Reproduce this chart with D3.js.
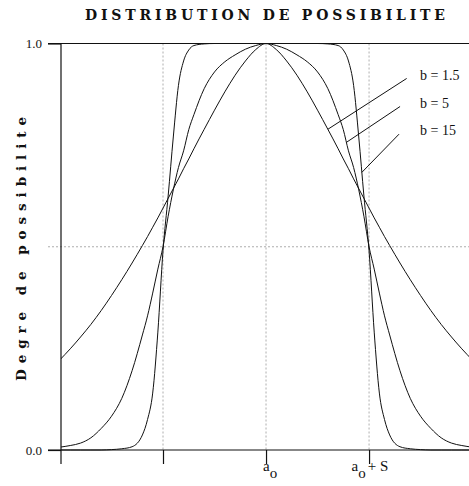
<!DOCTYPE html>
<html>
<head>
<meta charset="utf-8">
<script src="https://cdn.jsdelivr.net/npm/d3@7"></script>
<style>
  body { margin: 0; background: #fff; }
  svg { display: block; }
</style>
</head>
<body>
<div id="chart"></div>
<script>
// abscissa in units of S, centred on a0
var tVals = [-2.0, -1.9, -1.8, -1.7, -1.6, -1.5, -1.4, -1.3, -1.2, -1.15, -1.1, -1.05, -1.0, -0.95, -0.9, -0.85, -0.8, -0.75, -0.7, -0.6, -0.5, -0.4, -0.3, -0.2, -0.1,
  0,
  0.1, 0.2, 0.3, 0.4, 0.5, 0.6, 0.7, 0.75, 0.8, 0.85, 0.9, 0.95, 1.0, 1.05, 1.1, 1.15, 1.2, 1.3, 1.4, 1.5, 1.6, 1.7, 1.8, 1.9, 2.0];

// degree of possibility
var b1_5 = [0.222, 0.249, 0.278, 0.309, 0.343, 0.380, 0.419, 0.460, 0.503, 0.525, 0.548, 0.571, 0.595, 0.619, 0.643, 0.667, 0.692, 0.716, 0.741, 0.789, 0.836, 0.881, 0.922, 0.957, 0.985,
  1.0,
  0.985, 0.957, 0.922, 0.881, 0.836, 0.789, 0.741, 0.716, 0.692, 0.667, 0.643, 0.619, 0.595, 0.571, 0.548, 0.525, 0.503, 0.460, 0.419, 0.380, 0.343, 0.309, 0.278, 0.249, 0.222];

var b5 = [0.007, 0.011, 0.017, 0.030, 0.053, 0.083, 0.127, 0.195, 0.283, 0.330, 0.386, 0.445, 0.500, 0.575, 0.640, 0.695, 0.736, 0.788, 0.825, 0.889, 0.930, 0.955, 0.972, 0.986, 0.995,
  1.0,
  0.995, 0.986, 0.972, 0.955, 0.930, 0.889, 0.825, 0.788, 0.736, 0.695, 0.640, 0.575, 0.500, 0.445, 0.386, 0.330, 0.283, 0.195, 0.127, 0.083, 0.053, 0.030, 0.017, 0.011, 0.007];

var b15 = [0, 0, 0, 0, 0, 0.001, 0.003, 0.008, 0.037, 0.075, 0.140, 0.290, 0.490, 0.625, 0.770, 0.897, 0.957, 0.984, 0.995, 0.999, 1, 1, 1, 1, 1,
  1,
  1, 1, 1, 1, 1, 0.999, 0.995, 0.984, 0.957, 0.897, 0.770, 0.625, 0.490, 0.290, 0.140, 0.075, 0.037, 0.008, 0.003, 0.001, 0, 0, 0, 0, 0];

var seriesNames = ["b = 1.5", "b = 5", "b = 15"];
var seriesVals = [b1_5, b5, b15];

var xTicks = [-1, 0, 1];
var yTicks = [0, 0.5, 1];
var yTickLabels = ["0.0", "", "1.0"];

var width = 469, height = 486;

var svg = d3.select("#chart").append("svg")
  .attr("width", width)
  .attr("height", height);

var x = d3.scaleLinear().domain([-1.99, 1.97]).range([61, 469]);
var y = d3.scaleLinear().domain([0, 1]).range([450, 43.5]);

var left = x(-1.99);

// title
svg.append("text")
  .attr("x", 85).attr("y", 20)
  .attr("textLength", 360).attr("lengthAdjust", "spacing")
  .style("font-family", "'DejaVu Serif', serif")
  .style("font-weight", "bold")
  .style("font-size", "14px")
  .attr("fill", "#111")
  .text("DISTRIBUTION DE POSSIBILITE");

// y label
svg.append("text")
  .attr("transform", "translate(26,381)rotate(-90)")
  .attr("textLength", 264).attr("lengthAdjust", "spacing")
  .style("font-family", "'DejaVu Serif', serif")
  .style("font-weight", "bold")
  .style("font-size", "13.5px")
  .attr("fill", "#111")
  .text("Degre de possibilite");

// dotted grid
svg.selectAll(".vgrid").data(xTicks).enter().append("line")
  .attr("class", "vgrid")
  .attr("x1", function(d) { return x(d); }).attr("x2", function(d) { return x(d); })
  .attr("y1", y(1)).attr("y2", y(0))
  .attr("stroke", "#999").attr("stroke-width", 0.8)
  .attr("stroke-dasharray", "2,2");

svg.append("line")
  .attr("x1", 48).attr("x2", width)
  .attr("y1", y(0.5)).attr("y2", y(0.5))
  .attr("stroke", "#999").attr("stroke-width", 0.8)
  .attr("stroke-dasharray", "2,2");

// frame lines at 0 and 1
[0, 1].forEach(function(v) {
  svg.append("line")
    .attr("x1", 48).attr("x2", width)
    .attr("y1", y(v)).attr("y2", y(v))
    .attr("stroke", "#111").attr("stroke-width", 1.2);
});

// left axis line
svg.append("line")
  .attr("x1", left).attr("x2", left)
  .attr("y1", y(1)).attr("y2", y(0) + 14)
  .attr("stroke", "#111").attr("stroke-width", 1.2);

// y tick labels
var yAxis = d3.axisLeft(y)
  .tickValues(yTicks)
  .tickSize(13)
  .tickPadding(6)
  .tickFormat(function(d, i) { return yTickLabels[i]; });

var gy = svg.append("g")
  .attr("transform", "translate(" + left + ",0)")
  .call(yAxis);
gy.select(".domain").remove();
gy.selectAll(".tick line").attr("stroke", "#111").attr("stroke-width", 1.2)
  .attr("opacity", function(d) { return d === 0.5 ? 0 : 1; });
gy.selectAll(".tick text")
  .style("font-family", "'Liberation Serif', serif")
  .style("font-size", "13px")
  .attr("fill", "#111");

// x ticks below the base line
var xAxis = d3.axisBottom(x).tickValues(xTicks).tickSize(14).tickFormat("");
var gx = svg.append("g")
  .attr("transform", "translate(0," + y(0) + ")")
  .call(xAxis);
gx.select(".domain").remove();
gx.selectAll(".tick line").attr("stroke", "#111").attr("stroke-width", 1.2);

// a0 and a0 + S labels
function subLabel(px, rest) {
  var t = svg.append("text")
    .attr("x", px).attr("y", 470.5)
    .style("font-family", "'Liberation Serif', serif")
    .style("font-size", "15px")
    .attr("fill", "#111");
  t.append("tspan").text("a");
  t.append("tspan").attr("dy", 7).text("o");
  if (rest) t.append("tspan").attr("dy", -7).attr("dx", 2).text(rest);
}
subLabel(x(0) - 3, null);
subLabel(x(1) - 17.5, "+ S");

// curves
var defs = svg.append("defs");
defs.append("clipPath").attr("id", "plotClip")
  .append("rect")
  .attr("x", left).attr("y", 0)
  .attr("width", width - left).attr("height", y(0) + 1);

var line = d3.line()
  .x(function(d) { return x(d[0]); })
  .y(function(d) { return y(d[1]); })
  .curve(d3.curveMonotoneX);

var curves = svg.append("g").attr("clip-path", "url(#plotClip)");
seriesVals.forEach(function(vals) {
  var pts = tVals.map(function(t, i) { return [t, vals[i]]; });
  curves.append("path")
    .datum(pts)
    .attr("d", line)
    .attr("fill", "none")
    .attr("stroke", "#111")
    .attr("stroke-width", 1);
});

// leaders and labels
function valueAt(vals, t) {
  for (var i = 0; i < tVals.length - 1; i++) {
    if (t >= tVals[i] && t <= tVals[i + 1]) {
      var f = (t - tVals[i]) / (tVals[i + 1] - tVals[i]);
      return vals[i] + f * (vals[i + 1] - vals[i]);
    }
  }
  return 0;
}

var leaderStart = [0.60, 0.78, 0.93];
var leaderEnd = [[1.365, 0.914], [1.301, 0.845], [1.291, 0.777]];
var labelY = [0.9225, 0.853, 0.785];

seriesNames.forEach(function(name, i) {
  var t0 = leaderStart[i];
  svg.append("line")
    .attr("x1", x(t0)).attr("y1", y(valueAt(seriesVals[i], t0)))
    .attr("x2", x(leaderEnd[i][0])).attr("y2", y(leaderEnd[i][1]))
    .attr("stroke", "#111").attr("stroke-width", 1);
  svg.append("text")
    .attr("x", x(1.495)).attr("y", y(labelY[i]) + 4.5)
    .style("font-family", "'Liberation Serif', serif")
    .style("font-size", "14px")
    .attr("fill", "#111")
    .text(name);
});
</script>
</body>
</html>
